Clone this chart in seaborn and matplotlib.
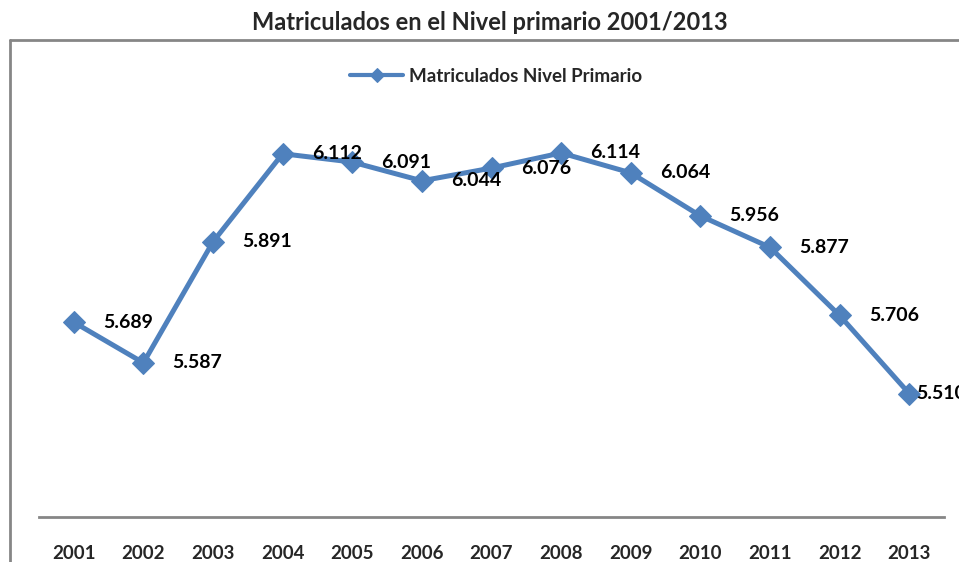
import matplotlib
matplotlib.use("Agg")
import matplotlib.pyplot as plt
import pandas as pd
import seaborn as sns
from matplotlib.lines import Line2D

years = [2001, 2002, 2003, 2004, 2005, 2006, 2007, 2008, 2009, 2010, 2011, 2012, 2013]
matriculados = [5.689, 5.587, 5.891, 6.112, 6.091, 6.044, 6.076, 6.114, 6.064, 5.956, 5.877, 5.706, 5.510]
serie = "Matriculados Nivel Primario"
titulo = "Matriculados en el Nivel primario 2001/2013"

df = pd.DataFrame({"anio": years, "valor": matriculados})

sns.set_theme(style="white")
plt.rcParams["font.family"] = ["Lato", "DejaVu Sans"]

W, H = 959, 562
fig = plt.figure(figsize=(W / 100, H / 100), dpi=100)
ax = fig.add_axes([39 / W, (H - 517) / H, (944 - 39) / W, (517 - 39) / H])

color = "#4F81BD"
sns.lineplot(data=df, x="anio", y="valor", ax=ax, color=color, linewidth=3.6,
             marker="D", markersize=11, markeredgecolor=color, label=serie)

for i, (x, v) in enumerate(zip(years, matriculados)):
    # Excel pushed the last label against the marker so it fits the chart
    dx = 5 if i == len(years) - 1 else 21
    ax.annotate(f"{v:.3f}", (x, v), xytext=(dx, 0), textcoords="offset points",
                ha="left", va="center", fontsize=14, fontweight="bold",
                color="black", annotation_clip=False)

ax.set_xlim(years[0] - 0.5, years[-1] + 0.5)
ax.set_ylim(5.2, 6.4)
ax.set_xticks(years)
ax.set_xticklabels([str(y) for y in years], fontsize=13.5, fontweight="bold")
ax.tick_params(axis="x", length=0, pad=20)
ax.set_yticks([])
ax.set_xlabel("")
ax.set_ylabel("")
for side in ["top", "right", "left"]:
    ax.spines[side].set_visible(False)
ax.spines["bottom"].set_color("#868686")
ax.spines["bottom"].set_linewidth(2)

leg = ax.legend(loc="upper center", bbox_to_anchor=(0.505, 0.975), frameon=False,
                prop={"weight": "bold", "size": 13.5}, handlelength=2.8,
                handletextpad=0.3)
for h in leg.legend_handles:
    h.set_markersize(7)
    h.set_linewidth(3)

fig.text(490 / W, 1 - 23 / H, titulo, ha="center", va="center",
         fontsize=17, fontweight="bold")

# chart border (top and left visible)
fig.add_artist(Line2D([10 / W, 1], [1 - 40 / H, 1 - 40 / H], transform=fig.transFigure,
                      color="#868686", linewidth=2))
fig.add_artist(Line2D([10 / W, 10 / W], [1 - 40 / H, 0], transform=fig.transFigure,
                      color="#868686", linewidth=2))

fig.savefig("out.png", dpi=100)
